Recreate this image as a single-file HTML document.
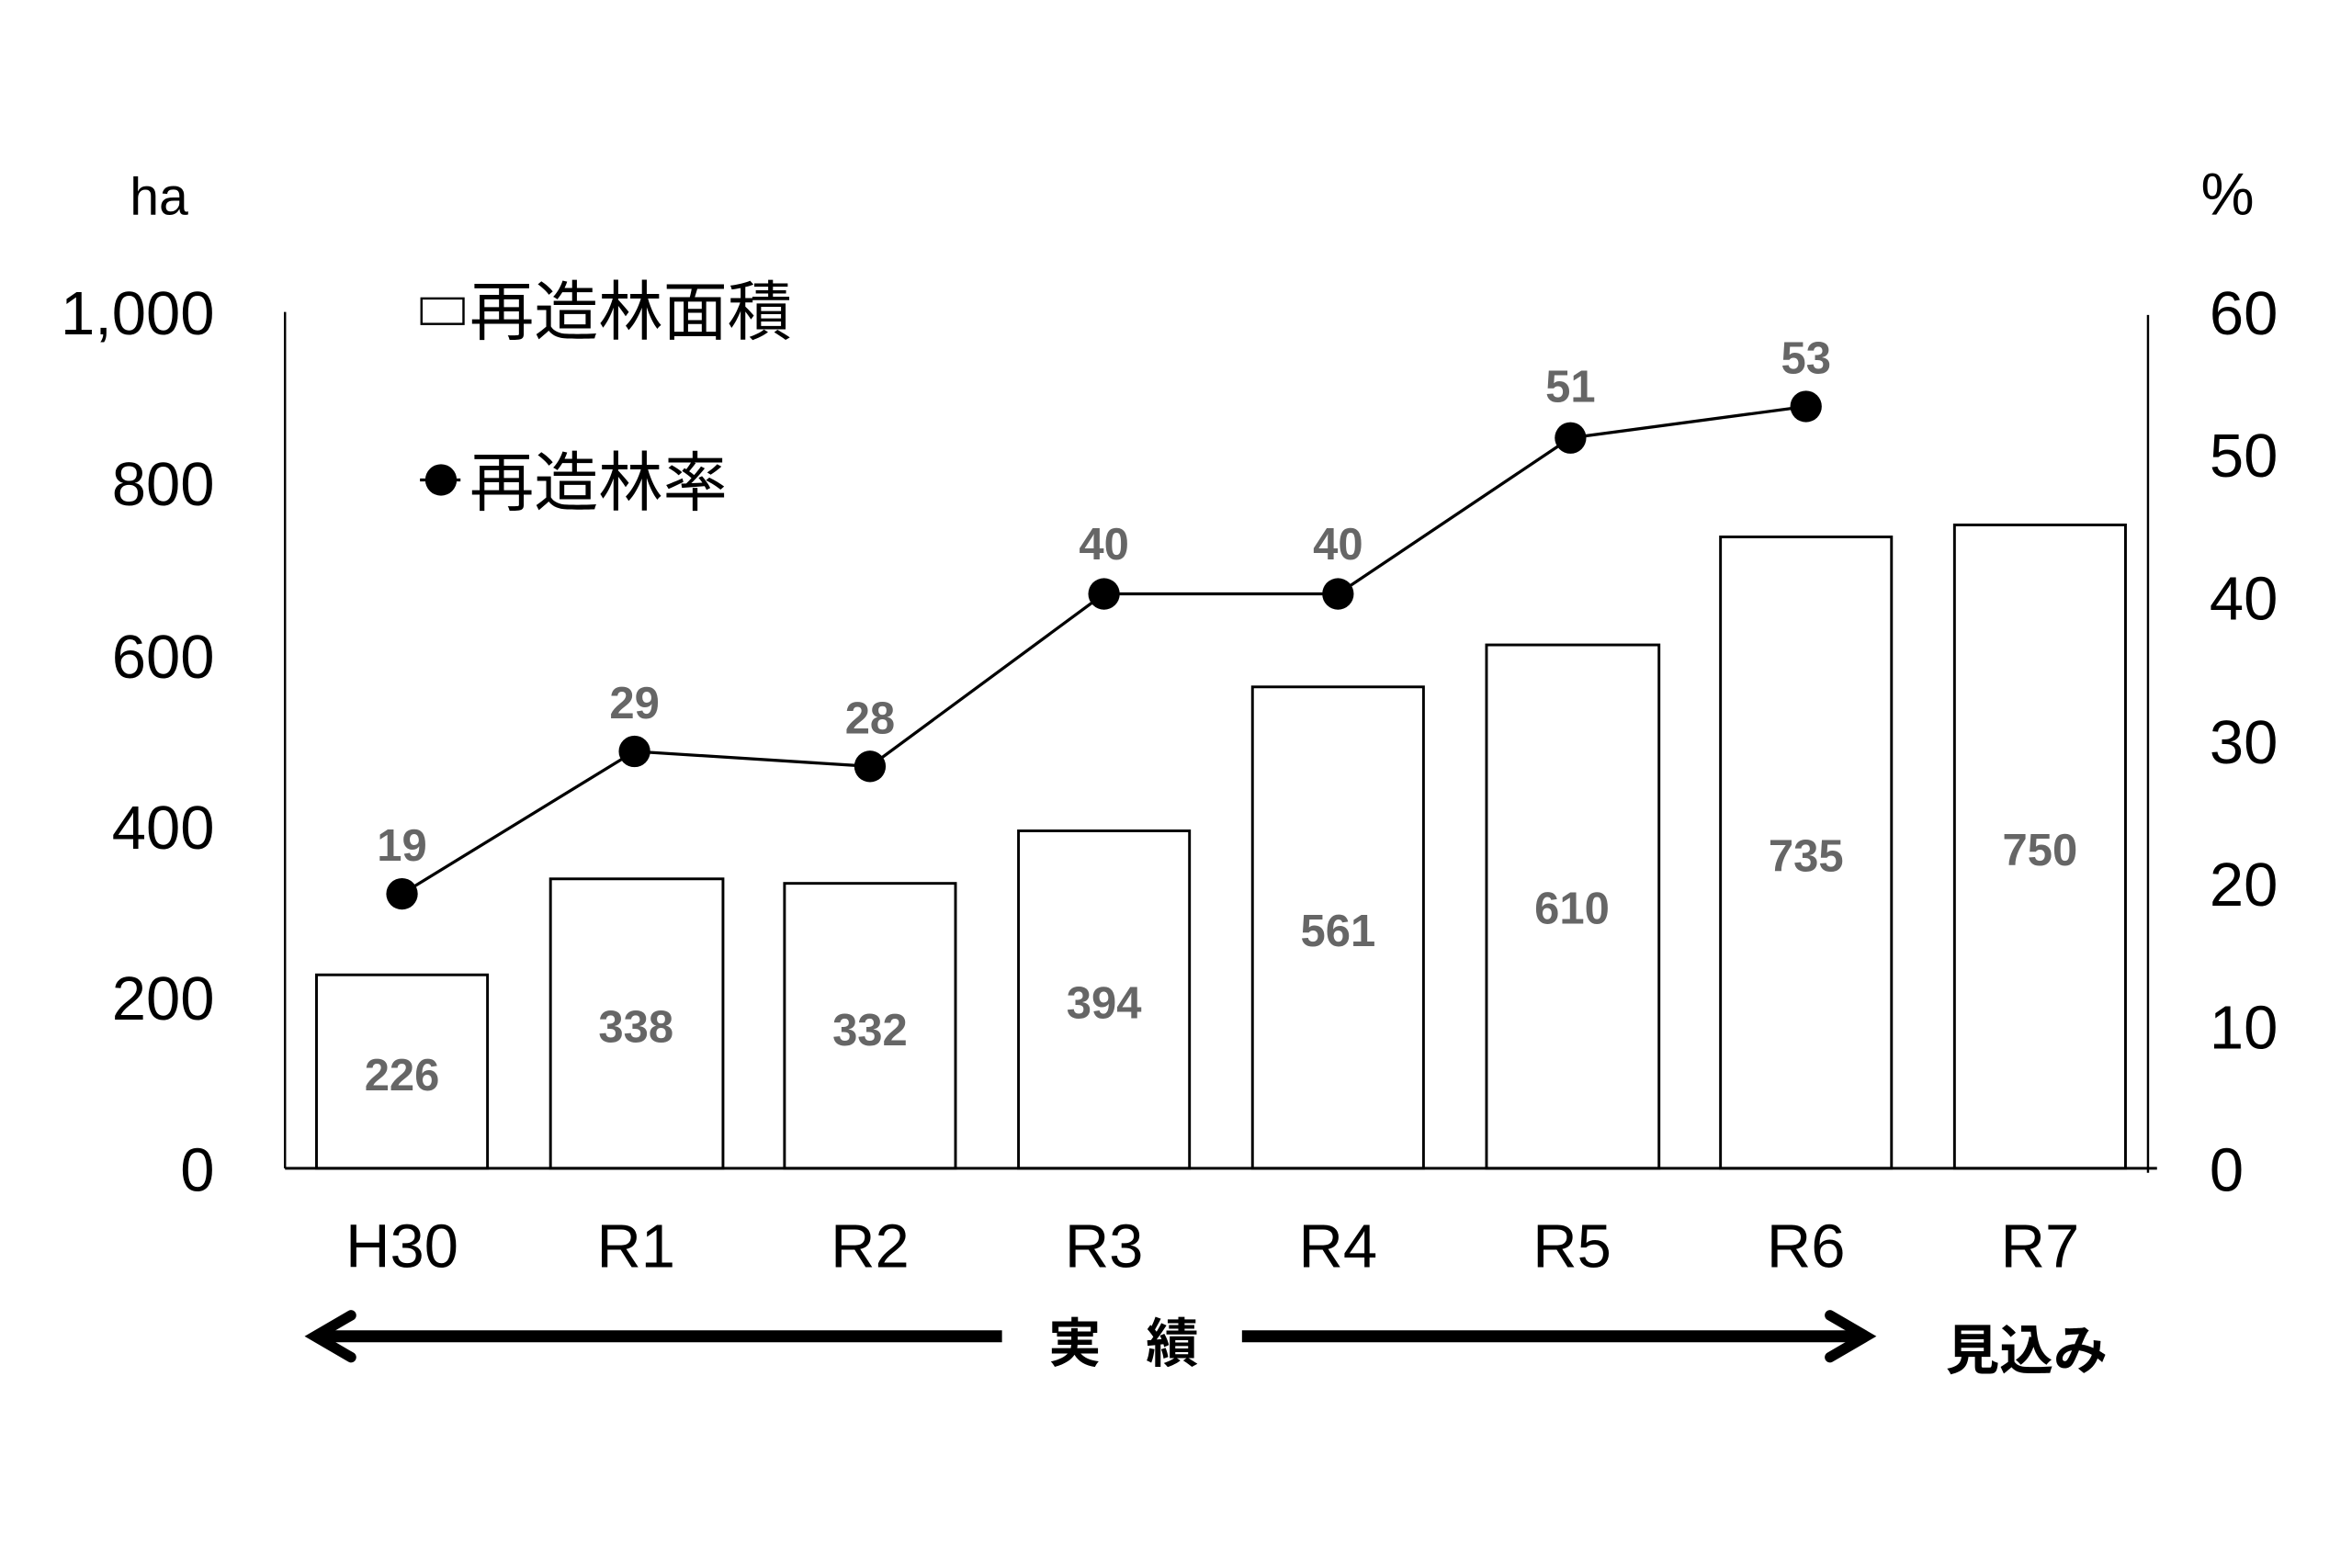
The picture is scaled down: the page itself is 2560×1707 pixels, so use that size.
<!DOCTYPE html>
<html><head><meta charset="utf-8"><style>html,body{margin:0;padding:0;background:#fff}svg{display:block}</style></head>
<body>
<svg width="2560" height="1707" viewBox="0 0 1568 1045.5" preserveAspectRatio="none" xmlns="http://www.w3.org/2000/svg" font-family="'Liberation Sans','Noto Sans CJK JP',sans-serif">
<rect width="1570" height="1050" fill="#fff"/>
<g fill="#000" font-size="41">
<text x="106" y="143" text-anchor="middle" font-size="35">ha</text>
<text x="1485" y="143" text-anchor="middle" font-size="40">%</text>
<g text-anchor="end">
<text x="143" y="223">1,000</text><text x="143" y="337">800</text><text x="143" y="452">600</text>
<text x="143" y="566">400</text><text x="143" y="680">200</text><text x="143" y="794">0</text>
</g>
<g text-anchor="start">
<text x="1473" y="223">60</text><text x="1473" y="318">50</text><text x="1473" y="413">40</text>
<text x="1473" y="509">30</text><text x="1473" y="604">20</text><text x="1473" y="699">10</text><text x="1473" y="794">0</text>
</g>
<g text-anchor="middle" font-size="41">
<text x="268" y="845">H30</text><text x="424" y="845">R1</text><text x="580" y="845">R2</text><text x="736" y="845">R3</text>
<text x="892" y="845">R4</text><text x="1048" y="845">R5</text><text x="1204" y="845">R6</text><text x="1360" y="845">R7</text>
</g>
</g>
<line x1="190" y1="208" x2="190" y2="779" stroke="#000" stroke-width="1.5"/>
<line x1="1432" y1="210" x2="1432" y2="782" stroke="#000" stroke-width="1.5"/>
<g fill="#fff" stroke="#000" stroke-width="1.8">
<rect x="211" y="650" width="114" height="129"/>
<rect x="367" y="586" width="115" height="193"/>
<rect x="523" y="589" width="114" height="190"/>
<rect x="679" y="554" width="114" height="225"/>
<rect x="835" y="458" width="114" height="321"/>
<rect x="991" y="430" width="115" height="349"/>
<rect x="1147" y="358" width="114" height="421"/>
<rect x="1303" y="350" width="114" height="429"/>
</g>
<line x1="190" y1="779" x2="1438" y2="779" stroke="#000" stroke-width="1.8"/>
<g fill="#666" font-weight="bold" font-size="30" text-anchor="middle">
<text x="268" y="727">226</text><text x="424" y="695">338</text><text x="580" y="697">332</text><text x="736" y="679">394</text>
<text x="892" y="631">561</text><text x="1048" y="616">610</text><text x="1204" y="581">735</text><text x="1360" y="577">750</text>
<text x="268" y="574">19</text><text x="423" y="479">29</text><text x="580" y="489">28</text><text x="736" y="373">40</text>
<text x="892" y="373">40</text><text x="1047" y="268">51</text><text x="1204" y="249">53</text>
</g>
<polyline points="268,596 423,501 580,511 736,396 892,396 1047,292 1204,271" fill="none" stroke="#000" stroke-width="2"/>
<g fill="#000">
<circle cx="268" cy="596" r="10.5"/><circle cx="423" cy="501" r="10.5"/><circle cx="580" cy="511" r="10.5"/>
<circle cx="736" cy="396" r="10.5"/><circle cx="892" cy="396" r="10.5"/><circle cx="1047" cy="292" r="10.5"/><circle cx="1204" cy="271" r="10.5"/>
</g>
<rect x="281" y="199" width="28" height="17" fill="#fff" stroke="#000" stroke-width="1.5"/>
<text x="313" y="223" font-size="43" fill="#000">再造林面積</text>
<line x1="280" y1="320" x2="307" y2="320" stroke="#000" stroke-width="2"/>
<circle cx="294" cy="320" r="10.5" fill="#000"/>
<text x="313" y="337" font-size="43" fill="#000">再造林率</text>
<g stroke="#000" stroke-width="8" fill="none" stroke-linecap="round" stroke-linejoin="miter">
<line x1="210" y1="891" x2="668" y2="891" stroke-linecap="butt"/>
<polyline points="234,877 210,891 234,905" stroke-width="7"/>
<line x1="828" y1="891" x2="1240" y2="891" stroke-linecap="butt"/>
<polyline points="1220,877 1244,891 1220,905" stroke-width="7"/>
</g>
<text x="699" y="908" font-size="35" font-weight="bold" fill="#000">実</text>
<text x="764" y="908" font-size="35" font-weight="bold" fill="#000">績</text>
<text x="1297" y="913" font-size="36" font-weight="bold" fill="#000">見込み</text>
</svg>
</body></html>
